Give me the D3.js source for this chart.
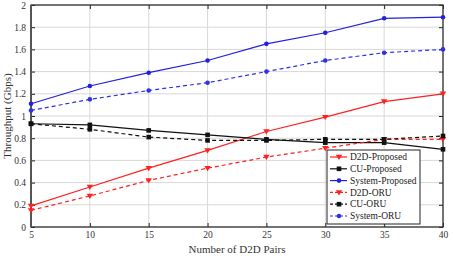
<!DOCTYPE html>
<html><head><meta charset="utf-8">
<script src="https://cdn.jsdelivr.net/npm/d3@7"></script>
<style>body{margin:0;background:#fff}svg{display:block}text{font-family:"Liberation Serif","DejaVu Serif",serif}</style>
</head><body><svg id="c" width="454" height="256"></svg>
<script>
const pairs = [5,10,15,20,25,30,35,40];
const d2dProposed = [0.19,0.36,0.53,0.69,0.86,0.99,1.13,1.20];
const cuProposed = [0.93,0.92,0.87,0.83,0.79,0.76,0.76,0.70];
const systemProposed = [1.11,1.27,1.39,1.50,1.65,1.75,1.88,1.89];
const d2dORU = [0.15,0.28,0.42,0.53,0.63,0.71,0.79,0.79];
const cuORU = [0.93,0.88,0.81,0.78,0.78,0.79,0.79,0.82];
const systemORU = [1.05,1.15,1.23,1.30,1.40,1.50,1.57,1.60];
const yTicks = [0,0.2,0.4,0.6,0.8,1,1.2,1.4,1.6,1.8,2];
const yTickLabels = ["0","0.2","0.4","0.6","0.8","1","1.2","1.4","1.6","1.8","2"];
const seriesNames = ["D2D-Proposed","CU-Proposed","System-Proposed","D2D-ORU","CU-ORU","System-ORU"];

const series = [
 {name:seriesNames[0], v:d2dProposed, c:"#ff2020", dash:null, m:"tri"},
 {name:seriesNames[1], v:cuProposed, c:"#111", dash:null, m:"sq"},
 {name:seriesNames[2], v:systemProposed, c:"#2020e0", dash:null, m:"dot"},
 {name:seriesNames[3], v:d2dORU, c:"#ff2020", dash:"4,3", m:"tri"},
 {name:seriesNames[4], v:cuORU, c:"#111", dash:"4,3", m:"sq"},
 {name:seriesNames[5], v:systemORU, c:"#3030e8", dash:"4,3", m:"dot"}
];

const svg = d3.select("#c");
const L=31,R=443,T=5,B=227;
const x = d3.scaleLinear().domain([5,40]).range([L,R]);
const y = d3.scaleLinear().domain([0,2]).range([B,T]);

// grid
svg.append("g").selectAll("line").data(pairs).join("line")
 .attr("x1",d=>x(d)).attr("x2",d=>x(d)).attr("y1",T).attr("y2",B)
 .attr("stroke","#d8d8d8").attr("stroke-width",1);
svg.append("g").selectAll("line").data(yTicks).join("line")
 .attr("x1",L).attr("x2",R).attr("y1",d=>y(d)).attr("y2",d=>y(d))
 .attr("stroke","#d8d8d8").attr("stroke-width",1);

// axes
const xAxis = d3.axisBottom(x).tickValues(pairs).tickSize(-4).tickPadding(4);
svg.append("g").attr("transform",`translate(0,${B})`).call(xAxis);
const yAxis = d3.axisLeft(y).tickValues(yTicks).tickFormat((d,i)=>yTickLabels[i]).tickSize(-4).tickPadding(5);
svg.append("g").attr("transform",`translate(${L},0)`).call(yAxis);
const yAxisR = d3.axisRight(y).tickValues(yTicks).tickFormat("").tickSize(-4);
svg.append("g").attr("transform",`translate(${R},0)`).call(yAxisR);
const xAxisT = d3.axisTop(x).tickValues(pairs).tickFormat("").tickSize(-4);
svg.append("g").attr("transform",`translate(0,${T})`).call(xAxisT);
svg.selectAll(".domain").remove();
svg.selectAll(".tick line").attr("stroke","#222");
svg.selectAll(".tick text").attr("font-size",9.5).attr("fill","#333");
svg.append("rect").attr("x",L).attr("y",T).attr("width",R-L).attr("height",B-T)
 .attr("fill","none").attr("stroke","#333").attr("stroke-width",1.3);
svg.append("line").attr("x1",L).attr("x2",L).attr("y1",T).attr("y2",B)
 .attr("stroke","#555").attr("stroke-width",2);

function marker(g, m, cx, cy, c){
 if(m==="tri"){
  g.append("path").attr("d",`M${cx-3.2},${cy-2.2}L${cx+3.2},${cy-2.2}L${cx},${cy+3}Z`).attr("fill",c);
 } else if(m==="sq"){
  g.append("rect").attr("x",cx-2.3).attr("y",cy-2.3).attr("width",4.6).attr("height",4.6).attr("fill",c);
 } else {
  g.append("circle").attr("cx",cx).attr("cy",cy).attr("r",2.3).attr("fill",c);
 }
}

const line = d3.line().x((d,i)=>x(pairs[i])).y(d=>y(d));
series.forEach(s=>{
 const g = svg.append("g");
 g.append("path").datum(s.v).attr("d",line).attr("fill","none").attr("stroke",s.c)
  .attr("stroke-width",1.2).attr("stroke-dasharray",s.dash);
 s.v.forEach((v,i)=>marker(g,s.m,x(pairs[i]),y(v),s.c));
});

// legend
const lg = svg.append("g");
lg.append("rect").attr("x",327).attr("y",150).attr("width",93).attr("height",74)
 .attr("fill","#fff").attr("stroke","#222").attr("stroke-width",1);
series.forEach((s,i)=>{
 const yy = 157 + i*11.8;
 lg.append("line").attr("x1",330).attr("x2",347).attr("y1",yy).attr("y2",yy)
  .attr("stroke",s.c).attr("stroke-width",1.2).attr("stroke-dasharray",s.dash?"3,2":null);
 marker(lg,s.m,339,yy,s.c);
 lg.append("text").attr("x",350).attr("y",yy+3.2).attr("font-size",9.5).attr("fill","#222").text(s.name);
});

// axis labels
svg.append("text").attr("x",(L+R)/2).attr("y",253).attr("text-anchor","middle")
 .attr("font-size",11).attr("fill","#333").text("Number of D2D Pairs");
svg.append("text").attr("transform",`translate(11,${(T+B)/2}) rotate(-90)`).attr("text-anchor","middle")
 .attr("font-size",11).attr("fill","#333").text("Throughput (Gbps)");
</script></body></html>
